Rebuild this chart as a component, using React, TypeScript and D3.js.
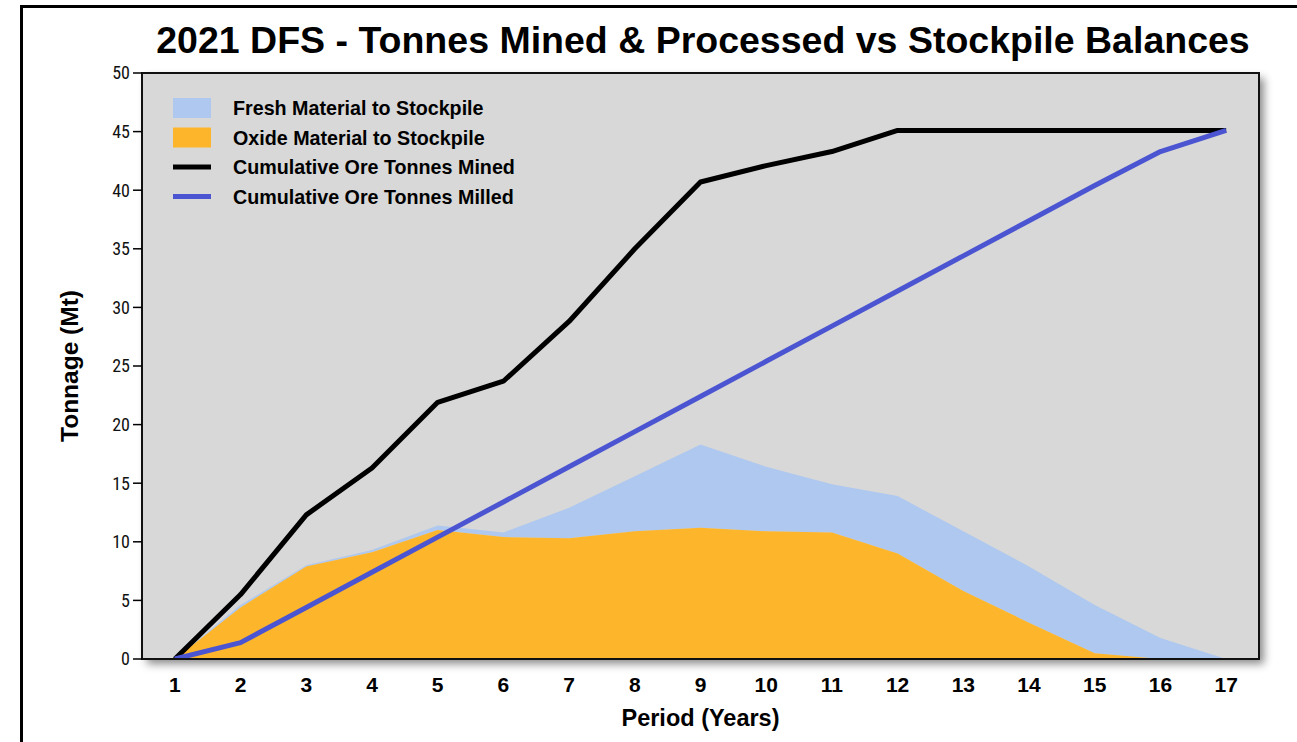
import React from 'react'
import * as d3 from 'd3'

const PERIODS = [1, 2, 3, 4, 5, 6, 7, 8, 9, 10, 11, 12, 13, 14, 15, 16, 17]
const OXIDE = [0, 4.4, 7.9, 9.1, 11.0, 10.4, 10.3, 10.9, 11.2, 10.9, 10.8, 9.0, 5.8, 3.1, 0.5, 0, 0]
const FRESH = [0, 0.2, 0.1, 0.2, 0.4, 0.4, 2.6, 4.7, 7.1, 5.5, 4.1, 4.9, 5.1, 4.8, 4.1, 1.8, 0]
const MINED = [0, 5.5, 12.3, 16.3, 21.9, 23.7, 28.8, 35.0, 40.7, 42.1, 43.3, 45.1, 45.1, 45.1, 45.1, 45.1, 45.1]
const MILLED = [0, 1.4, 4.4, 7.4, 10.4, 13.4, 16.4, 19.4, 22.4, 25.4, 28.4, 31.4, 34.4, 37.4, 40.4, 43.3, 45.1]
const Y_TICKS = [0, 5, 10, 15, 20, 25, 30, 35, 40, 45, 50]

const LEGEND = [
  { label: 'Fresh Material to Stockpile', color: '#aec8ef', kind: 'area' },
  { label: 'Oxide Material to Stockpile', color: '#fdb52c', kind: 'area' },
  { label: 'Cumulative Ore Tonnes Mined', color: '#000000', kind: 'line' },
  { label: 'Cumulative Ore Tonnes Milled', color: '#4b55d2', kind: 'line' },
]

const W = 1297
const H = 742
const plot = { left: 142, top: 73, right: 1259, bottom: 659 }
const NARROW = "'Liberation Sans Narrow', 'Arial Narrow', 'Roboto Condensed', sans-serif"
const SANS = "'Liberation Sans', Arial, sans-serif"

export default function App() {
  const x = d3
    .scalePoint<number>()
    .domain(PERIODS)
    .range([plot.left, plot.right])
    .padding(0.5)
  const y = d3.scaleLinear().domain([0, 50]).range([plot.bottom, plot.top])

  const rows = PERIODS.map((p, i) => ({ p, oxide: OXIDE[i], fresh: FRESH[i] }))
  const stacked = d3.stack<(typeof rows)[number]>().keys(['oxide', 'fresh'])(rows)

  const area = d3
    .area<d3.SeriesPoint<(typeof rows)[number]>>()
    .x((d) => x(d.data.p)!)
    .y0((d) => y(d[0]))
    .y1((d) => y(d[1]))

  const line = d3
    .line<number>()
    .x((_, i) => x(PERIODS[i])!)
    .y((d) => y(d))

  const oxidePath = area(stacked[0])!
  const freshPath = area(stacked[1])!

  return (
    <svg width={W} height={H} style={{ position: 'absolute', left: 0, top: 0, background: '#fff' }}>
      <defs>
        <filter id="shadow" x="-5%" y="-5%" width="115%" height="115%">
          <feDropShadow dx="5" dy="5" stdDeviation="4" floodColor="#000" floodOpacity="0.45" />
        </filter>
        <clipPath id="clip">
          <rect x={plot.left} y={plot.top} width={plot.right - plot.left} height={plot.bottom - plot.top} />
        </clipPath>
      </defs>

      {/* outer frame */}
      <rect x={21.5} y={6.5} width={1320} height={800} fill="none" stroke="#000" strokeWidth={3} />

      <text
        x={703}
        y={53}
        textAnchor="middle"
        fontFamily={SANS}
        fontWeight="bold"
        fontSize={37.5}
        fill="#000"
      >
        2021 DFS - Tonnes Mined &amp; Processed vs Stockpile Balances
      </text>

      {/* plot background */}
      <rect
        x={plot.left}
        y={plot.top}
        width={plot.right - plot.left}
        height={plot.bottom - plot.top}
        fill="#d8d8d8"
        filter="url(#shadow)"
      />

      <g clipPath="url(#clip)">
        <path d={freshPath} fill="#aec8ef" />
        <path d={oxidePath} fill="#fdb52c" />
        <path d={line(MINED)!} fill="none" stroke="#000" strokeWidth={5} strokeLinejoin="round" />
        <path d={line(MILLED)!} fill="none" stroke="#4b55d2" strokeWidth={5} strokeLinejoin="round" />
      </g>

      <rect
        x={plot.left}
        y={plot.top}
        width={plot.right - plot.left}
        height={plot.bottom - plot.top}
        fill="none"
        stroke="#111"
        strokeWidth={2}
      />

      {/* y axis */}
      {Y_TICKS.map((t) => (
        <g key={t}>
          <line x1={plot.left - 9} x2={plot.left} y1={y(t)} y2={y(t)} stroke="#000" strokeWidth={1.5} />
          <text
            x={plot.left - 12}
            y={y(t)}
            dy="0.35em"
            textAnchor="end"
            fontFamily={NARROW}
            fontSize={18}
            fill="#111"
          >
            {t}
          </text>
        </g>
      ))}
      <text
        transform={`translate(78,${(plot.top + plot.bottom) / 2}) rotate(-90)`}
        textAnchor="middle"
        fontFamily={SANS}
        fontWeight="bold"
        fontSize={24.5}
        fill="#000"
      >
        Tonnage (Mt)
      </text>

      {/* x axis */}
      {PERIODS.map((p) => (
        <text
          key={p}
          x={x(p)}
          y={692}
          textAnchor="middle"
          fontFamily={SANS}
          fontWeight="bold"
          fontSize={21}
          fill="#000"
        >
          {p}
        </text>
      ))}
      <text
        x={(plot.left + plot.right) / 2}
        y={726}
        textAnchor="middle"
        fontFamily={SANS}
        fontWeight="bold"
        fontSize={23.5}
        fill="#000"
      >
        Period (Years)
      </text>

      {/* legend */}
      {LEGEND.map((l, i) => {
        const cy = 108 + i * 29.5
        return (
          <g key={l.label}>
            {l.kind === 'area' ? (
              <rect x={173} y={cy - 10} width={38} height={20} fill={l.color} />
            ) : (
              <rect x={173} y={cy - 2.5} width={38} height={5} fill={l.color} />
            )}
            <text
              x={233}
              y={cy}
              dy="0.36em"
              fontFamily={SANS}
              fontWeight="bold"
              fontSize={19.7}
              fill="#000"
            >
              {l.label}
            </text>
          </g>
        )
      })}
    </svg>
  )
}
